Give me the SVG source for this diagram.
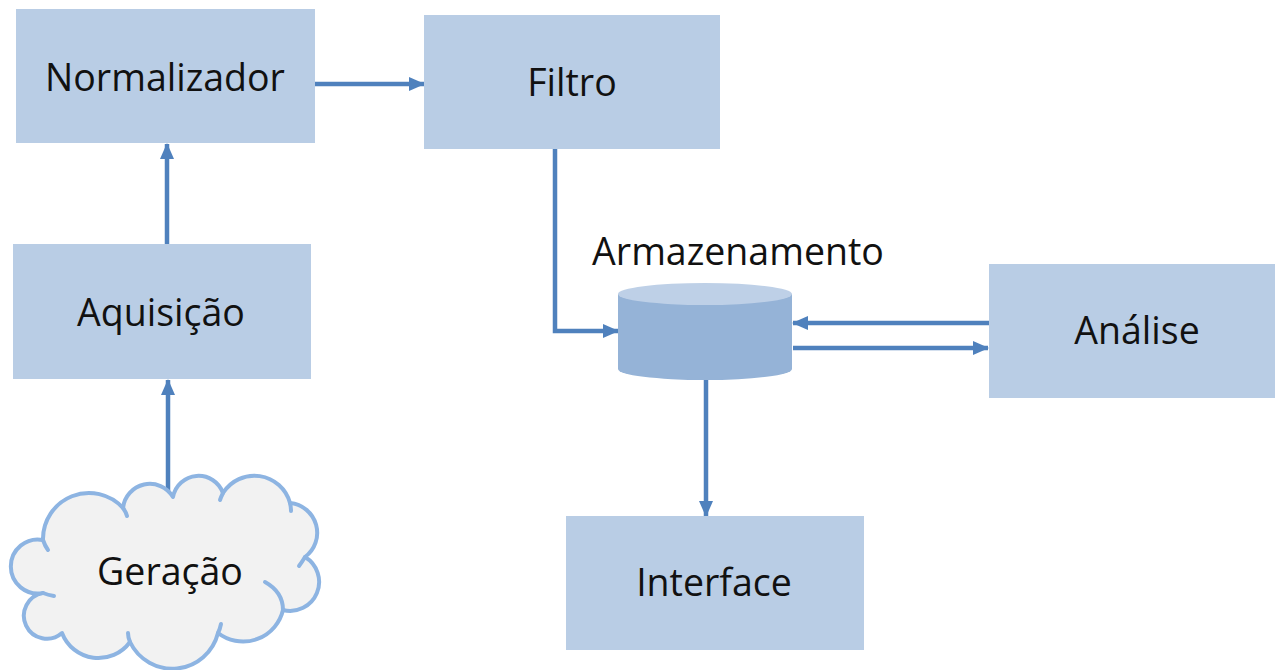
<svg xmlns="http://www.w3.org/2000/svg" width="1275" height="670" viewBox="0 0 1275 670">
<style>
.box{fill:#B9CDE5;}
.lbl{font-family:"Open Sans","Noto Sans",sans-serif;font-size:37.5px;fill:#111;text-anchor:middle;}
.conn{fill:none;stroke:#4F81BD;stroke-width:4.5;marker-end:url(#ah);}
.cloud{fill:#F2F2F2;stroke:#8DB4E2;stroke-width:4;stroke-linejoin:round;}
.hook{fill:none;stroke:#8DB4E2;stroke-width:4;stroke-linecap:round;}
</style>
<defs>
<marker id="ah" markerUnits="userSpaceOnUse" markerWidth="16" markerHeight="14" refX="15" refY="7" orient="auto">
<path d="M0,0 L16,7 L0,14 Z" fill="#4F81BD"/>
</marker>
</defs>
<rect width="1275" height="670" fill="#FFFFFF"/>
<g id="connectors">
<line class="conn" x1="315" y1="84" x2="424" y2="84"/>
<line class="conn" x1="167" y1="244" x2="167" y2="144"/>
<line class="conn" x1="168" y1="492" x2="168" y2="380"/>
<polyline class="conn" points="555,149 555,331 618,331"/>
<line class="conn" x1="989" y1="323" x2="793" y2="323"/>
<line class="conn" x1="793" y1="348" x2="988" y2="348"/>
<line class="conn" x1="706" y1="380" x2="706" y2="516"/>
</g>
<g id="normalizador">
<rect class="box" x="16" y="9" width="299" height="134"/>
<text class="lbl" x="165" y="91">Normalizador</text>
</g>
<g id="filtro">
<rect class="box" x="424" y="15" width="296" height="134"/>
<text class="lbl" x="572" y="96">Filtro</text>
</g>
<g id="aquisicao">
<rect class="box" x="13" y="244" width="298" height="135"/>
<text class="lbl" x="161" y="326">Aquisição</text>
</g>
<g id="analise">
<rect class="box" x="989" y="264" width="286" height="134"/>
<text class="lbl" x="1137" y="344">Análise</text>
</g>
<g id="interface">
<rect class="box" x="566" y="516" width="298" height="134"/>
<text class="lbl" x="714" y="596">Interface</text>
</g>
<g id="armazenamento">
<path d="M618,294 L618,369 A87,11 0 0 0 792,369 L792,294 Z" fill="#95B3D7"/>
<ellipse cx="705" cy="294" rx="87" ry="11" fill="#BED0E7"/>
<text class="lbl" x="738" y="265">Armazenamento</text>
</g>
<g id="geracao">
<path class="cloud" d="M43,540 A46,46 0 0 1 123,508 A27,27 0 0 1 173,497 A26,26 0 0 1 223,493 A37,37 0 0 1 290,503 A30,30 0 0 1 305,557 A29,29 0 0 1 283,610 A41,41 0 0 1 218,633 A47,47 0 0 1 130,642 A39,39 0 0 1 62,633 A23,23 0 1 1 43,593 A27,27 0 1 1 43,540 Z"/>
<path class="hook" d="M265,582 Q283,592 283,610"/>
<path class="hook" d="M43,540 Q45,546 48,550"/>
<path class="hook" d="M123,508 Q126,512 127,516"/>
<path class="hook" d="M223,493 Q221,497 220,500"/>
<path class="hook" d="M290,503 Q291,507 291,511"/>
<path class="hook" d="M305,557 Q302,562 299,566"/>
<path class="hook" d="M218,633 Q220,629 221,624"/>
<path class="hook" d="M130,642 Q128,637 128,633"/>
<path class="hook" d="M43,593 Q48,595 54,596"/>
<text class="lbl" x="170" y="585">Geração</text>
</g>
</svg>
